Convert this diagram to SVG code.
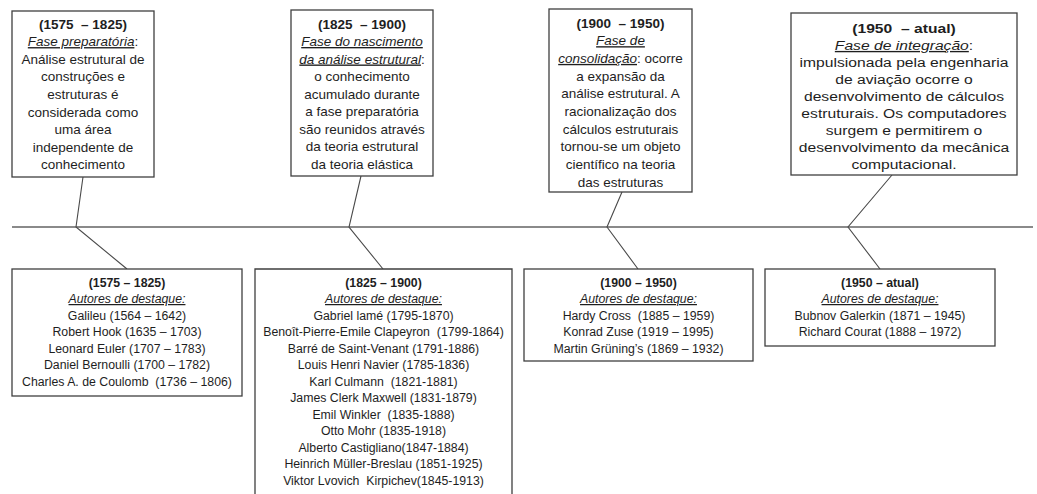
<svg xmlns="http://www.w3.org/2000/svg" width="1037" height="494" viewBox="0 0 1037 494">
  <style>
    .box { fill: #ffffff; stroke: #3f3f3f; stroke-width: 1.3; }
    .t { font-family: "Liberation Sans", Arial, sans-serif; font-size: 13.5px; fill: #1e1e1e; text-anchor: middle; }
    .s { font-size: 12.3px; }
    .b { font-weight: bold; }
    .u { font-style: italic; text-decoration: underline; }
    .axis { stroke: #8a8a8a; stroke-width: 2; fill: none; }
    .conn { stroke: #4a4a4a; stroke-width: 1.1; fill: none; }
  </style>
  <rect width="1037" height="494" fill="#ffffff"/>

  <!-- timeline axis and leader lines -->
  <g id="connectors">
    <line class="axis" x1="12" y1="227" x2="1033" y2="227"/>
    <polyline class="conn" points="83,177 76,227 127,269"/>
    <polyline class="conn" points="361,176 349,227 383,269"/>
    <polyline class="conn" points="622,192 607,227 638,269"/>
    <polyline class="conn" points="892,175 848,227 880,269"/>
  </g>

  <!-- phase descriptions (above the axis) -->
  <g id="phase-1575">
    <rect class="box" x="12" y="11" width="142" height="166"/>
    <text class="t b" x="83" y="28.5">(1575&#160; – 1825)</text>
    <text class="t" x="83" y="46.1"><tspan class="u">Fase preparatória</tspan>:</text>
    <text class="t" x="83" y="63.7">Análise estrutural de</text>
    <text class="t" x="83" y="81.3">construções e</text>
    <text class="t" x="83" y="98.9">estruturas é</text>
    <text class="t" x="83" y="116.5">considerada como</text>
    <text class="t" x="83" y="134.1">uma área</text>
    <text class="t" x="83" y="151.7">independente de</text>
    <text class="t" x="83" y="169.3">conhecimento</text>
  </g>

  <g id="phase-1825">
    <rect class="box" x="291" y="10" width="142" height="166"/>
    <text class="t b" x="362" y="28.5">(1825&#160; – 1900)</text>
    <text class="t" x="362" y="46"><tspan class="u">Fase do nascimento</tspan></text>
    <text class="t" x="362" y="63.5"><tspan class="u">da análise estrutural</tspan>:</text>
    <text class="t" x="362" y="81">o conhecimento</text>
    <text class="t" x="362" y="98.5">acumulado durante</text>
    <text class="t" x="362" y="116">a fase preparatória</text>
    <text class="t" x="362" y="133.5">são reunidos através</text>
    <text class="t" x="362" y="151">da teoria estrutural</text>
    <text class="t" x="362" y="168.5">da teoria elástica</text>
  </g>

  <g id="phase-1900">
    <rect class="box" x="549" y="9" width="143" height="183"/>
    <text class="t b" x="620.5" y="27.5">(1900&#160; – 1950)</text>
    <text class="t" x="620.5" y="45.2"><tspan class="u">Fase de</tspan></text>
    <text class="t" x="620.5" y="62.9"><tspan class="u">consolidação</tspan>: ocorre</text>
    <text class="t" x="620.5" y="80.6">a expansão da</text>
    <text class="t" x="620.5" y="98.3">análise estrutural. A</text>
    <text class="t" x="620.5" y="116">racionalização dos</text>
    <text class="t" x="620.5" y="133.7">cálculos estruturais</text>
    <text class="t" x="620.5" y="151.4">tornou-se um objeto</text>
    <text class="t" x="620.5" y="169.1">científico na teoria</text>
    <text class="t" x="620.5" y="186.8">das estruturas</text>
  </g>

  <g id="phase-1950">
    <rect class="box" x="791" y="13" width="226" height="162"/>
    <g transform="translate(904 0) scale(1.16 1)">
      <text class="t b" x="0" y="33">(1950&#160; – atual)</text>
      <text class="t" x="0" y="50"><tspan class="u">Fase de integração</tspan>:</text>
      <text class="t" x="0" y="67">impulsionada pela engenharia</text>
      <text class="t" x="0" y="84">de aviação ocorre o</text>
      <text class="t" x="0" y="101">desenvolvimento de cálculos</text>
      <text class="t" x="0" y="118">estruturais. Os computadores</text>
      <text class="t" x="0" y="135">surgem e permitirem o</text>
      <text class="t" x="0" y="152">desenvolvimento da mecânica</text>
      <text class="t" x="0" y="169">computacional.</text>
    </g>
  </g>

  <!-- notable authors (below the axis) -->
  <g id="authors-1575">
    <rect class="box" x="12" y="269" width="230" height="127"/>
    <text class="t s b" x="127" y="286.5">(1575 – 1825)</text>
    <text class="t s u" x="127" y="303">Autores de destaque:</text>
    <text class="t s" x="127" y="319.5">Galileu (1564 – 1642)</text>
    <text class="t s" x="127" y="336">Robert Hook (1635 – 1703)</text>
    <text class="t s" x="127" y="352.5">Leonard Euler (1707 – 1783)</text>
    <text class="t s" x="127" y="369">Daniel Bernoulli (1700 – 1782)</text>
    <text class="t s" x="127" y="385.5">Charles A. de Coulomb&#160; (1736 – 1806)</text>
  </g>

  <g id="authors-1825">
    <path class="box" d="M255,500 V269 H512 V500"/>
    <text class="t s b" x="383.5" y="286.5">(1825 – 1900)</text>
    <text class="t s u" x="383.5" y="303">Autores de destaque:</text>
    <text class="t s" x="383.5" y="319.5">Gabriel lamé (1795-1870)</text>
    <text class="t s" x="383.5" y="336">Benoît-Pierre-Emile Clapeyron&#160; (1799-1864)</text>
    <text class="t s" x="383.5" y="352.5">Barré de Saint-Venant (1791-1886)</text>
    <text class="t s" x="383.5" y="369">Louis Henri Navier (1785-1836)</text>
    <text class="t s" x="383.5" y="385.5">Karl Culmann&#160; (1821-1881)</text>
    <text class="t s" x="383.5" y="402">James Clerk Maxwell (1831-1879)</text>
    <text class="t s" x="383.5" y="418.5">Emil Winkler&#160; (1835-1888)</text>
    <text class="t s" x="383.5" y="435">Otto Mohr (1835-1918)</text>
    <text class="t s" x="383.5" y="451.5">Alberto Castigliano(1847-1884)</text>
    <text class="t s" x="383.5" y="468">Heinrich Müller-Breslau (1851-1925)</text>
    <text class="t s" x="383.5" y="484.5">Viktor Lvovich&#160; Kirpichev(1845-1913)</text>
  </g>

  <g id="authors-1900">
    <rect class="box" x="524" y="269" width="229" height="92"/>
    <text class="t s b" x="638.5" y="286.5">(1900 – 1950)</text>
    <text class="t s u" x="638.5" y="303">Autores de destaque:</text>
    <text class="t s" x="638.5" y="319.5">Hardy Cross&#160; (1885 – 1959)</text>
    <text class="t s" x="638.5" y="336">Konrad Zuse (1919 – 1995)</text>
    <text class="t s" x="638.5" y="352.5">Martin Grüning’s (1869 – 1932)</text>
  </g>

  <g id="authors-1950">
    <rect class="box" x="765" y="269" width="230" height="77"/>
    <text class="t s b" x="880" y="286.5">(1950 – atual)</text>
    <text class="t s u" x="880" y="303">Autores de destaque:</text>
    <text class="t s" x="880" y="319.5">Bubnov Galerkin (1871 – 1945)</text>
    <text class="t s" x="880" y="336">Richard Courat (1888 – 1972)</text>
  </g>
</svg>
